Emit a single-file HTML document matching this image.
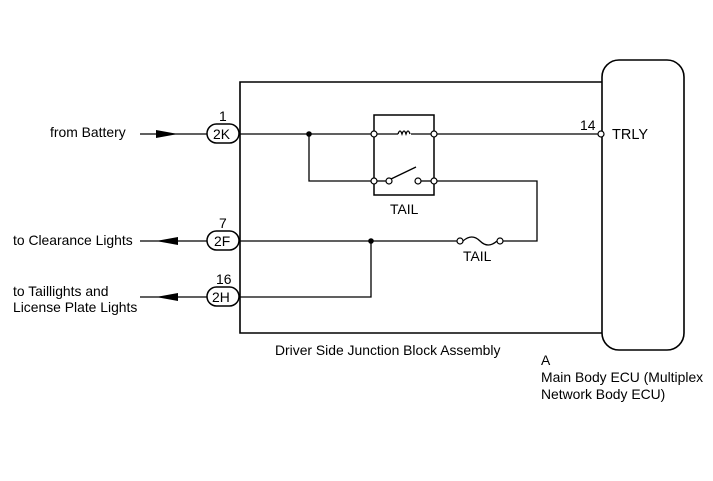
<!DOCTYPE html>
<html><head><style>html,body{margin:0;padding:0;background:#fff;}svg{display:block}</style></head>
<body>
<svg width="713" height="481" viewBox="0 0 713 481" xmlns="http://www.w3.org/2000/svg" font-family="Liberation Sans, sans-serif" font-size="13.9" fill="#000">
<g stroke="#000" stroke-width="1.3" fill="none">
<polyline points="602,82 240,82 240,333 602,333" stroke-width="1.6"/>
<rect x="602" y="60" width="82" height="290" rx="17" stroke-width="1.6"/>
<line x1="140" y1="134" x2="207" y2="134"/>
<line x1="140" y1="241" x2="207" y2="241"/>
<line x1="140" y1="297" x2="207" y2="297"/>
<line x1="240" y1="134" x2="371" y2="134"/>
<line x1="437" y1="134" x2="598" y2="134"/>
<polyline points="309,134 309,181 371,181"/>
<polyline points="437,181 537,181 537,241 503,241"/>
<line x1="240" y1="241" x2="457" y2="241"/>
<polyline points="371,241 371,297 240,297"/>
<rect x="374" y="115" width="60" height="80" stroke-width="1.5"/>
<line x1="377" y1="134" x2="398" y2="134"/>
<line x1="411" y1="134" x2="431" y2="134"/>
<path d="M398,134 q2,-6 4,0 q2,-6 4,0 q2,-6 4,0" />
<line x1="377" y1="181" x2="386" y2="181"/>
<line x1="391" y1="179" x2="416" y2="167"/>
<line x1="421" y1="181" x2="431" y2="181"/>
<path d="M463,241 q9,-8 17,0 t17,0"/>
</g>
<g stroke="#000" stroke-width="1.2" fill="#fff">
<circle cx="374" cy="134" r="3"/><circle cx="434" cy="134" r="3"/>
<circle cx="374" cy="181" r="3"/><circle cx="389" cy="181" r="3"/>
<circle cx="418" cy="181" r="3"/><circle cx="434" cy="181" r="3"/>
<circle cx="460" cy="241" r="3"/><circle cx="500" cy="241" r="3"/>
<circle cx="601" cy="134" r="3"/>
<rect x="207" y="124" width="32" height="19" rx="9.5" stroke-width="1.5"/>
<rect x="207" y="231" width="32" height="19" rx="9.5" stroke-width="1.5"/>
<rect x="207" y="287" width="32" height="19" rx="9.5" stroke-width="1.5"/>
</g>
<circle cx="309" cy="134" r="2.8"/><circle cx="371" cy="241" r="2.8"/>
<polygon points="156,130 178,134 156,138"/>
<polygon points="178,237 156,241 178,245"/>
<polygon points="178,293 156,297 178,301"/>
<text x="213" y="139">2K</text>
<text x="214" y="246">2F</text>
<text x="212" y="302">2H</text>
<text x="219" y="121">1</text>
<text x="219" y="228">7</text>
<text x="216" y="284">16</text>
<text x="580" y="130">14</text>
<text x="612" y="139" font-size="14.5">TRLY</text>
<text x="50" y="137">from Battery</text>
<text x="13" y="245">to Clearance Lights</text>
<text x="13" y="296">to Taillights and</text>
<text x="13" y="312">License Plate Lights</text>
<text x="390" y="214">TAIL</text>
<text x="463" y="261">TAIL</text>
<text x="275" y="355">Driver Side Junction Block Assembly</text>
<text x="541" y="365">A</text>
<text x="541" y="382">Main Body ECU (Multiplex</text>
<text x="541" y="399">Network Body ECU)</text>
</svg>
</body></html>
